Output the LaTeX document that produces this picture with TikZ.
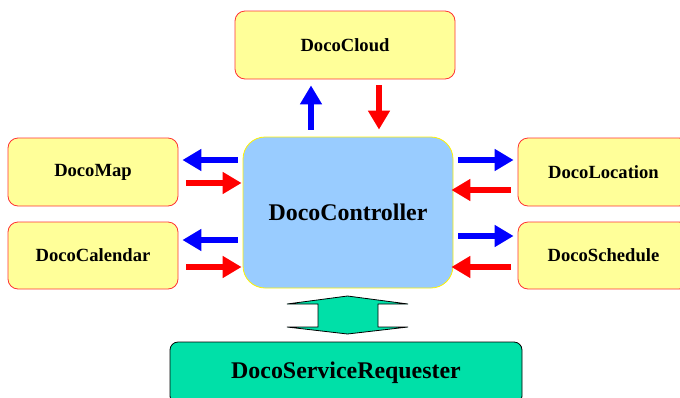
\documentclass[tikz,border=0pt]{standalone}
\usepackage{fontspec}
\setmainfont{Liberation Serif}
\usetikzlibrary{arrows.meta}

\definecolor{compfill}{HTML}{FFFF99}
\definecolor{compline}{HTML}{FF3333}
\definecolor{ctrlfill}{HTML}{99CCFF}
\definecolor{reqfill}{HTML}{00E0A8}

\tikzset{
  comp/.style={draw=compline, fill=compfill, line width=.8pt, rounded corners=10pt,
    minimum width=170pt, minimum height=68pt, font=\fontsize{18.6}{20}\selectfont\bfseries},
  outarr/.style={draw=blue, line width=6pt, -{Triangle[length=19pt,width=21pt]}},
  inarr/.style={draw=red, line width=6pt, -{Triangle[length=19pt,width=21pt]}}
}

\begin{document}
\begin{tikzpicture}[x=1pt,y=-1pt]
			\useasboundingbox (0,0) rectangle (680,397);
			\clip (0,0) rectangle (680,397);

			\node[comp, minimum width=220pt] (cloud) at (345,45) {DocoCloud};
			\node[comp] (map) at (93,172) {DocoMap};
			\node[comp, minimum height=67pt] (cal) at (93,255.5) {DocoCalendar};
			\node[comp, minimum width=171pt] (loc) at (603.5,172) {DocoLocation};
			\node[comp, minimum width=171pt, minimum height=67pt] (sched) at (603.5,255.5) {DocoSchedule};

			\node[draw=yellow, fill=ctrlfill, line width=.8pt, rounded corners=22pt, minimum width=210pt, minimum height=151pt,
			  font=\fontsize{23.9}{26}\selectfont\bfseries] (ctrl) at (348,212.5) {DocoController};

			\node[draw=black, fill=reqfill, line width=.8pt, rounded corners=8pt, minimum width=352pt, minimum height=62pt,
			  font=\fontsize{23.9}{26}\selectfont\bfseries] (req) at (346,373) {DocoServiceRequester};

			% controller <-> cloud
			\draw[outarr, shorten <=7pt, shorten >=6pt] (ctrl.north -| 311,0) -- (cloud.south -| 311,0);
			\draw[inarr, shorten <=6pt, shorten >=7pt] (cloud.south -| 379,0) -- (ctrl.north -| 379,0);

			% left side
			\draw[outarr, shorten <=5pt, shorten >=4pt] (ctrl.west |- 0,160) -- (map.east |- 0,160);
			\draw[inarr, shorten <=8pt, shorten >=1pt] (map.east |- 0,183) -- (ctrl.west |- 0,183);
			\draw[outarr, shorten <=5pt, shorten >=4pt] (ctrl.west |- 0,240) -- (cal.east |- 0,240);
			\draw[inarr, shorten <=8pt, shorten >=1pt] (cal.east |- 0,267) -- (ctrl.west |- 0,267);

			% right side
			\draw[outarr, shorten <=5pt, shorten >=4pt] (ctrl.east |- 0,160) -- (loc.west |- 0,160);
			\draw[inarr, shorten <=7pt, shorten >=-2pt] (loc.west |- 0,190) -- (ctrl.east |- 0,190);
			\draw[outarr, shorten <=5pt, shorten >=4pt] (ctrl.east |- 0,236) -- (sched.west |- 0,236);
			\draw[inarr, shorten <=7pt, shorten >=-2pt] (sched.west |- 0,267) -- (ctrl.east |- 0,267);

			% controller <-> requester
			\draw[fill=reqfill, line width=.8pt] (347.5,296) -- (408,304) -- (378,304) -- (378,327) -- (408,327) -- (347.5,334)
			  -- (287,327) -- (318,327) -- (318,304) -- (287,304) -- cycle;
\end{tikzpicture}
\end{document}
